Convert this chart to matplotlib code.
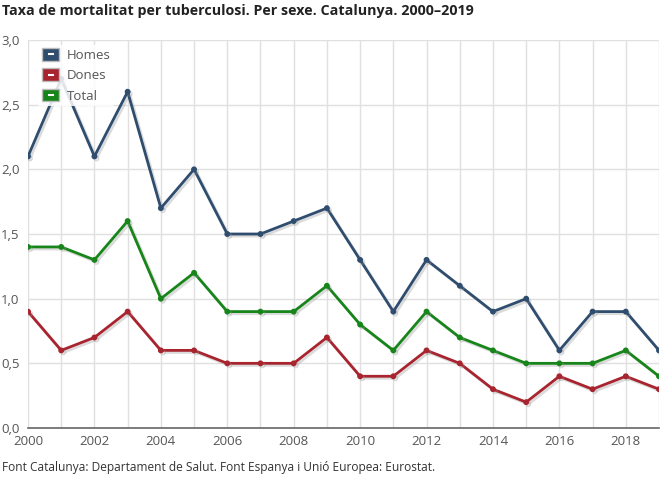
import matplotlib
matplotlib.use("Agg")
import matplotlib.pyplot as plt
import matplotlib.patheffects as pe
from matplotlib.legend_handler import HandlerBase
from matplotlib.patches import Rectangle
from matplotlib.lines import Line2D
from matplotlib.ticker import FuncFormatter, MultipleLocator

plt.rcParams['font.family'] = ['Open Sans', 'DejaVu Sans']

years = list(range(2000, 2020))
homes = [2.1, 2.7, 2.1, 2.6, 1.7, 2.0, 1.5, 1.5, 1.6, 1.7, 1.3, 0.9, 1.3, 1.1, 0.9, 1.0, 0.6, 0.9, 0.9, 0.6]
dones = [0.9, 0.6, 0.7, 0.9, 0.6, 0.6, 0.5, 0.5, 0.5, 0.7, 0.4, 0.4, 0.6, 0.5, 0.3, 0.2, 0.4, 0.3, 0.4, 0.3]
total = [1.4, 1.4, 1.3, 1.6, 1.0, 1.2, 0.9, 0.9, 0.9, 1.1, 0.8, 0.6, 0.9, 0.7, 0.6, 0.5, 0.5, 0.5, 0.6, 0.4]
series_names = ['Homes', 'Dones', 'Total']
colors = ['#2f4d6e', '#a8242f', '#17851a']

fig = plt.figure(figsize=(6.7, 4.88), dpi=100)
ax = fig.add_axes([28/670, 1-428/488, (659-28)/670, (428-40)/488])

shadow = [pe.SimpleLineShadow(offset=(1.5, -1.5), shadow_color='#999999', alpha=0.35), pe.Normal()]
for vals, c in zip([homes, dones, total], colors):
    ax.plot(years, vals, color=c, lw=2, marker='o', ms=3.2, zorder=3,
            path_effects=shadow)

ax.set_xlim(2000, 2019)
ax.set_ylim(0, 3.0)
ax.xaxis.set_major_locator(MultipleLocator(2))
ax.xaxis.set_minor_locator(MultipleLocator(1))
ax.yaxis.set_major_locator(MultipleLocator(0.5))
ax.yaxis.set_major_formatter(FuncFormatter(lambda v, p: f"{v:.1f}".replace('.', ',')))
ax.grid(True, which='both', axis='x', color='#e0e0e0', lw=1)
ax.grid(True, which='major', axis='y', color='#e0e0e0', lw=1)
ax.set_axisbelow(True)
for s in ['top', 'right', 'left']:
    ax.spines[s].set_visible(False)
ax.spines['bottom'].set_color('#666666')
ax.spines['bottom'].set_linewidth(1.2)
ax.tick_params(axis='both', which='both', length=0, labelsize=9.5, colors='#555555')
ax.tick_params(axis='y', pad=6)
ax.tick_params(axis='x', pad=5)


class RectHandler(HandlerBase):
    def __init__(self, color):
        super().__init__()
        self.color = color

    def create_artists(self, legend, orig_handle, xdescent, ydescent, width, height, fontsize, trans):
        w = 17 * 72 / 100
        h = 12.5 * 72 / 100
        x0 = xdescent + (width - w) / 2
        y0 = ydescent + (height - h) / 2
        r = Rectangle((x0, y0), w, h, facecolor=self.color, edgecolor='#bbbbbb', lw=1, transform=trans)
        cy = y0 + h / 2
        ln = Line2D([x0 + w * 0.38, x0 + w * 0.62], [cy, cy], color='white', lw=1.5, transform=trans)
        return [r, ln]


handles = [Line2D([], []) for _ in series_names]
leg = ax.legend(handles, series_names, loc='upper left', bbox_to_anchor=(0.005, 1.004),
                frameon=True, fontsize=9.5, handlelength=1.4, handletextpad=0.5,
                labelspacing=0.55, borderpad=0.3,
                handler_map={h: RectHandler(c) for h, c in zip(handles, colors)})
leg.get_frame().set_facecolor('white')
leg.get_frame().set_edgecolor('none')
leg.get_frame().set_alpha(0.85)
for t in leg.get_texts():
    t.set_color('#555555')

fig.text(2/670, 1-11/488, 'Taxa de mortalitat per tuberculosi. Per sexe. Catalunya. 2000–2019',
         fontsize=10.3, fontweight='bold', color='#222222', va='center', ha='left')
fig.text(2/670, 1-468/488, 'Font Catalunya: Departament de Salut. Font Espanya i Unió Europea: Eurostat.',
         fontsize=8.6, color='#333333', va='center', ha='left')

fig.savefig('out.png', dpi=100)
